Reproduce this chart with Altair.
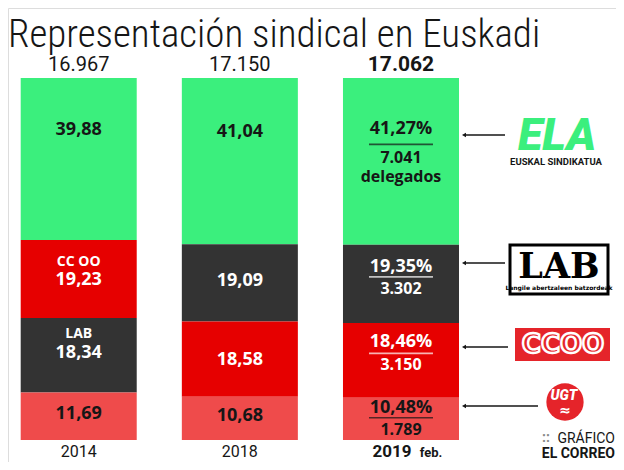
import altair as alt
import pandas as pd

# ---------------- data ----------------
years = ["2014", "2018", "2019"]
year_labels = ["2014", "2018", "2019"]
unions = ["ELA", "CCOO", "LAB", "UGT"]
share_2014 = [39.88, 19.23, 18.34, 11.69]   # ELA, CCOO, LAB, UGT
share_2018 = [41.04, 18.58, 19.09, 10.68]
share_2019 = [41.27, 18.46, 19.35, 10.48]
delegates_2019 = [7041, 3150, 3302, 1789]
totals = [16967, 17150, 17062]
order_2014 = ["ELA", "CCOO", "LAB", "UGT"]   # top to bottom
order_2018 = ["ELA", "LAB", "CCOO", "UGT"]
order_2019 = ["ELA", "LAB", "CCOO", "UGT"]
names_2014 = {"CCOO": "CC OO", "LAB": "LAB"}

# ---------------- style ----------------
colors = {"ELA": "#3bef7d", "CCOO": "#e60000", "LAB": "#333333", "UGT": "#ef4b4b"}
DARK = "#161616"
S = -3                      # global vertical shift (px)
TOP, BOT = 73 + S, 435 + S  # pixel range of the bars
PX = float(BOT - TOP)
FONT = "Open Sans"
HEAD = "Roboto"

def fmt_pct(v):
    return f"{v:.2f}".replace(".", ",")

def fmt_int(v):
    return f"{v:,}".replace(",", ".")

shares = {"2014": share_2014, "2018": share_2018, "2019": share_2019}
orders = {"2014": order_2014, "2018": order_2018, "2019": order_2019}

# pixel offsets of text lines from segment middle (style)
off_main = {"ELA": -29, "CCOO": 1, "LAB": -2, "UGT": -2}
off_name = {"CCOO": -17, "LAB": -21}
off_pct = {"ELA": -32, "LAB": -17, "CCOO": -18, "UGT": -11}
off_line = {"ELA": -17, "LAB": -7, "CCOO": -7, "UGT": -1}
off_cnt = {"ELA": -3, "LAB": 5, "CCOO": 5, "UGT": 11}
off_del = 16

rows = []
for yr in years:
    vals = dict(zip(unions, shares[yr]))
    s = sum(vals.values())
    cum = 0.0
    for u in orders[yr]:
        v = vals[u]
        y0 = cum / s
        y1 = (cum + v) / s
        cum += v
        mid = (y0 + y1) / 2
        r = dict(year=yr, union=u, value=v, y0=y0, y1=y1, mid=mid)
        r["label"] = fmt_pct(v)
        r["y_main"] = mid + off_main[u] / PX
        r["name"] = names_2014.get(u, "") if yr == "2014" else ""
        r["y_name"] = mid + off_name.get(u, 0) / PX
        if yr == "2019":
            d = dict(zip(unions, delegates_2019))[u]
            r["pct"] = fmt_pct(v) + "%"
            r["cnt"] = fmt_int(d)
            r["y_pct"] = mid + off_pct[u] / PX
            r["y_line"] = mid + off_line[u] / PX
            r["y_cnt"] = mid + off_cnt[u] / PX
            r["dlg"] = "delegados" if u == "ELA" else ""
            r["y_dlg"] = mid + off_del / PX
        rows.append(r)
df = pd.DataFrame(rows)

tot_df = pd.DataFrame({"year": years, "total": [fmt_int(t) for t in totals]})

xs = alt.Scale(domain=years, range=[12.7, 451], paddingInner=0.28, paddingOuter=0)
ys = alt.Scale(domain=[0, 1], range=[TOP, BOT], nice=False, zero=False)
X = alt.X("year:N", scale=xs, axis=None)

txtcolor = alt.condition("datum.union == 'ELA' || datum.union == 'UGT'",
                         alt.value(DARK), alt.value("white"))

base = alt.Chart(df)

bars = base.mark_bar().encode(
    x=X,
    y=alt.Y("y0:Q", scale=ys, axis=None),
    y2="y1:Q",
    color=alt.Color("union:N", scale=alt.Scale(domain=list(colors), range=list(colors.values())), legend=None),
)

main_lbl = base.transform_filter("datum.year != '2019'").mark_text(
    font=FONT, fontSize=18, fontWeight="bold", baseline="middle").encode(
    x=X, y=alt.Y("y_main:Q", scale=ys), text="label:N", color=txtcolor)

name_lbl = base.transform_filter("datum.name != ''").mark_text(
    font=FONT, fontSize=14, fontWeight="bold", baseline="middle").encode(
    x=X, y=alt.Y("y_name:Q", scale=ys), text="name:N", color=txtcolor)

d19 = base.transform_filter("datum.year == '2019'")
pct_lbl = d19.mark_text(font=FONT, fontSize=18, fontWeight="bold", baseline="middle").encode(
    x=X, y=alt.Y("y_pct:Q", scale=ys), text="pct:N", color=txtcolor)
cnt_lbl = d19.mark_text(font=FONT, fontSize=16, fontWeight="bold", baseline="middle").encode(
    x=X, y=alt.Y("y_cnt:Q", scale=ys), text="cnt:N", color=txtcolor)
dlg_lbl = d19.transform_filter("datum.dlg != ''").mark_text(
    font=FONT, fontSize=16, fontWeight="bold", baseline="middle").encode(
    x=X, y=alt.Y("y_dlg:Q", scale=ys), text="dlg:N", color=txtcolor)
uline = d19.mark_tick(size=64, thickness=1.6).encode(
    x=X, y=alt.Y("y_line:Q", scale=ys), color=txtcolor)

tot = alt.Chart(tot_df)
tot_reg = tot.transform_filter("datum.year != '2019'").mark_text(
    font=HEAD, fontSize=20, baseline="middle", color=DARK).encode(
    x=X, y=alt.value(60 + S), text="total:N")
tot_bold = tot.transform_filter("datum.year == '2019'").mark_text(
    font=HEAD, fontSize=21, fontWeight="bold", baseline="middle", color=DARK).encode(
    x=X, y=alt.value(60 + S), text="total:N")

YB = 444
yl_df = pd.DataFrame({"year": years, "lab": year_labels})
yl = alt.Chart(yl_df)
yl_reg = yl.transform_filter("datum.year != '2019'").mark_text(
    font=HEAD, fontSize=16, baseline="middle", color=DARK).encode(
    x=X, y=alt.value(YB), text="lab:N")
yl_bold = yl.transform_filter("datum.year == '2019'").mark_text(
    font=HEAD, fontSize=17, fontWeight="bold", baseline="middle", color=DARK, dx=-9).encode(
    x=X, y=alt.value(YB), text="lab:N")
feb = yl.transform_filter("datum.year == '2019'").mark_text(
    font=HEAD, fontSize=13, fontWeight="bold", baseline="middle", color=DARK, dx=30).encode(
    x=X, y=alt.value(YB + 1), text=alt.value("feb."))

# ---------- title & logos (annotations) ----------
one = alt.Chart(pd.DataFrame({"k": [0]}))
title = one.mark_text(text="Representación sindical en Euskadi",
                      font="Roboto Condensed, Liberation Sans Narrow, DejaVu Sans Condensed, Roboto",
                      fontSize=39, fontWeight=300, align="left", baseline="alphabetic",
                      color=DARK).encode(x=alt.value(0), y=alt.value(39))

arrow_y = [130, 258, 342, 401]
arrow_x2 = [497, 497, 500, 530]
arrows = []
for ay, ax2 in zip(arrow_y, arrow_x2):
    arrows.append(one.mark_rule(color=DARK, strokeWidth=1.3).encode(
        x=alt.value(457), x2=alt.value(ax2), y=alt.value(ay + S)))
    arrows.append(one.mark_point(shape="triangle-left", filled=True, size=22,
                                 color=DARK, opacity=1).encode(
        x=alt.value(456), y=alt.value(ay + S)))

ela = one.mark_text(text="ELA", font="Roboto", fontSize=45, fontWeight=900,
                    fontStyle="italic", color=colors["ELA"], align="center",
                    baseline="alphabetic").encode(x=alt.value(549), y=alt.value(145 + S))
ela2 = one.mark_text(text="EUSKAL SINDIKATUA", font="Roboto", fontSize=9.5,
                     fontWeight="bold", color=DARK, align="center",
                     baseline="middle").encode(x=alt.value(548), y=alt.value(157 + S))

lab_box = one.mark_rect(fill="white", stroke="black", strokeWidth=3).encode(
    x=alt.value(502), x2=alt.value(600), y=alt.value(240 + S), y2=alt.value(289 + S))
lab_txt = one.mark_text(text="LAB", font="DejaVu Serif", fontSize=35,
                        fontWeight="bold", color="black", align="center",
                        baseline="alphabetic").encode(x=alt.value(551), y=alt.value(273 + S))
lab_txt2 = one.mark_text(text="Langile abertzaleen batzordeak", font="DejaVu Sans",
                         fontSize=6, fontWeight="bold", color="black", align="center",
                         baseline="middle").encode(x=alt.value(551), y=alt.value(283 + S))

cc_box = one.mark_rect(fill="#e5242a").encode(
    x=alt.value(507), x2=alt.value(602), y=alt.value(323 + S), y2=alt.value(356 + S))
cc_txt = one.mark_text(text="CCOO", font="DejaVu Sans", fontSize=26,
                       fontWeight="bold", fill="#e5242a", stroke="white", strokeWidth=2.4,
                       align="center", baseline="middle").encode(
    x=alt.value(555), y=alt.value(340 + S))

ugt_c = one.mark_point(shape="circle", filled=True, size=1390, color="#e5242a",
                       opacity=1).encode(x=alt.value(557), y=alt.value(397 + S))
ugt_t = one.mark_text(text="UGT", font="Roboto", fontSize=14, fontWeight=900,
                      fontStyle="italic", color="white", align="center",
                      baseline="middle").encode(x=alt.value(556), y=alt.value(391 + S))
ugt_h = one.mark_text(text="≈", font="DejaVu Sans", fontSize=14, fontWeight="bold",
                      color="white", align="center", baseline="middle").encode(
    x=alt.value(557), y=alt.value(406 + S))

graf_dots = one.mark_text(text="::", font="Roboto", fontSize=14, fontWeight="bold",
                          color="#888888", align="right", baseline="middle").encode(
    x=alt.value(542), y=alt.value(430))
graf = one.mark_text(text="GRÁFICO", font="Roboto", fontSize=14, color=DARK,
                     align="right", baseline="middle").encode(
    x=alt.value(607), y=alt.value(431))
correo = one.mark_text(text="EL CORREO", font="Roboto", fontSize=14, fontWeight="bold",
                       color=DARK, align="right", baseline="middle").encode(
    x=alt.value(607), y=alt.value(446))

chart = alt.layer(
    bars, main_lbl, name_lbl, pct_lbl, cnt_lbl, dlg_lbl, uline,
    tot_reg, tot_bold, yl_reg, yl_bold, feb, title, *arrows,
    ela, ela2, lab_box, lab_txt, lab_txt2, cc_box, cc_txt, ugt_c, ugt_t, ugt_h,
    graf_dots, graf, correo,
).properties(
    width=608, height=454, padding=0,
    autosize=alt.AutoSizeParams(type="none"),
).configure_view(stroke=None).configure(background="white")

chart.save("out.html", embed_options={"renderer": "svg", "actions": False})
